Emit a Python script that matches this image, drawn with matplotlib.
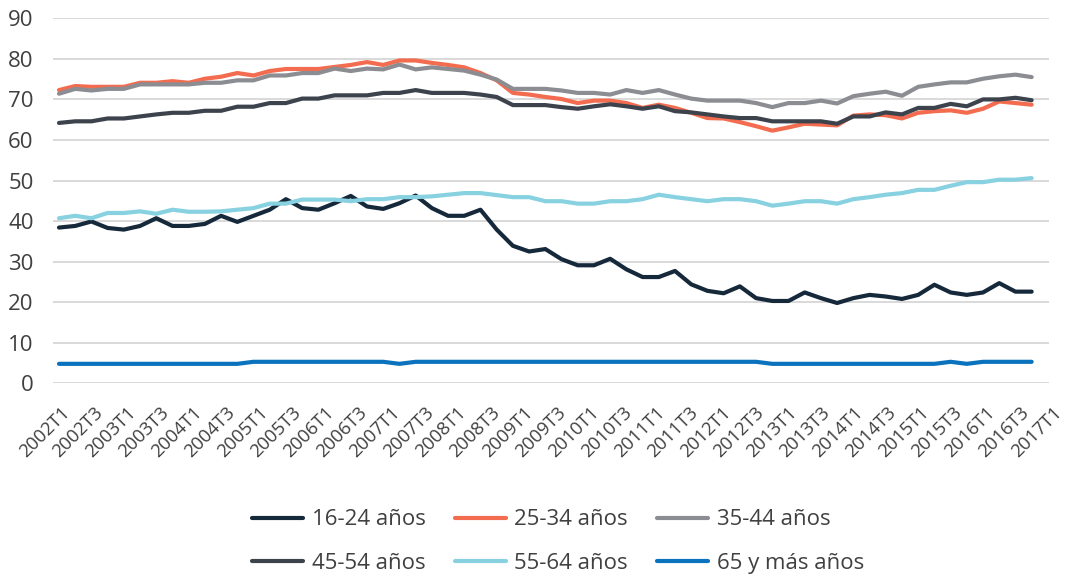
import matplotlib
matplotlib.use('Agg')
import matplotlib.pyplot as plt
import matplotlib.transforms as mtransforms

plt.rcParams['font.family'] = ['Open Sans', 'DejaVu Sans']

# trimestres 2002T1 .. 2017T1
quarters = [f'{y}T{q}' for y in range(2002, 2018) for q in range(1, 5)][:61]

age_16_24 = [38.4, 38.8, 39.9, 38.3, 37.9, 38.8, 40.7, 38.8, 38.8, 39.3,
             41.3, 39.8, 41.3, 42.8, 45.4, 43.2, 42.8, 44.4, 46.2, 43.6,
             43.0, 44.4, 46.3, 43.2, 41.3, 41.3, 42.8, 37.9, 33.9, 32.5,
             33.1, 30.6, 29.1, 29.1, 30.7, 28.1, 26.2, 26.2, 27.7, 24.4,
             22.8, 22.2, 23.9, 21.0, 20.3, 20.3, 22.4, 21.0, 19.8, 21.0,
             21.8, 21.4, 20.8, 21.8, 24.3, 22.4, 21.8, 22.4, 24.7, 22.6,
             22.6]
age_25_34 = [72.3, 73.3, 73.1, 73.1, 73.1, 74.1, 74.1, 74.5, 74.1, 75.1,
             75.6, 76.5, 75.9, 77.0, 77.5, 77.5, 77.5, 78.0, 78.5, 79.2,
             78.5, 79.6, 79.6, 79.0, 78.5, 77.9, 76.5, 74.7, 71.6, 71.2,
             70.6, 70.1, 69.1, 69.7, 69.7, 69.1, 67.9, 68.7, 67.9, 66.7,
             65.4, 65.3, 64.4, 63.4, 62.3, 63.1, 64.0, 63.8, 63.6, 66.0,
             66.3, 66.1, 65.3, 66.7, 67.1, 67.3, 66.7, 67.7, 69.5, 69.1,
             68.7]
age_35_44 = [71.4, 72.6, 72.2, 72.6, 72.6, 73.7, 73.7, 73.7, 73.7, 74.1,
             74.1, 74.7, 74.7, 75.9, 75.9, 76.5, 76.5, 77.6, 77.0, 77.6,
             77.4, 78.6, 77.4, 77.9, 77.5, 77.1, 76.1, 74.9, 72.6, 72.6,
             72.6, 72.2, 71.6, 71.6, 71.2, 72.3, 71.6, 72.3, 71.2, 70.2,
             69.7, 69.7, 69.7, 69.1, 68.1, 69.1, 69.1, 69.7, 69.0, 70.8,
             71.4, 71.9, 70.9, 73.1, 73.7, 74.2, 74.2, 75.1, 75.7, 76.1,
             75.5]
age_45_54 = [64.2, 64.6, 64.6, 65.3, 65.3, 65.8, 66.3, 66.7, 66.7, 67.2,
             67.2, 68.2, 68.2, 69.1, 69.1, 70.2, 70.2, 71.0, 71.0, 71.0,
             71.6, 71.6, 72.3, 71.6, 71.6, 71.6, 71.2, 70.6, 68.6, 68.6,
             68.6, 68.1, 67.7, 68.3, 68.8, 68.3, 67.7, 68.3, 67.1, 66.8,
             66.3, 65.8, 65.4, 65.4, 64.6, 64.6, 64.6, 64.6, 64.0, 65.8,
             65.8, 66.8, 66.3, 67.9, 67.9, 68.9, 68.3, 70.0, 70.0, 70.4,
             69.8]
age_55_64 = [40.7, 41.3, 40.7, 42.0, 42.0, 42.4, 41.8, 42.8, 42.3, 42.3,
             42.4, 42.8, 43.2, 44.3, 44.3, 45.3, 45.3, 45.3, 44.9, 45.4,
             45.4, 45.9, 45.9, 46.1, 46.5, 46.9, 46.9, 46.4, 45.9, 45.9,
             44.9, 44.9, 44.3, 44.3, 44.9, 44.9, 45.4, 46.5, 45.9, 45.4,
             44.9, 45.4, 45.4, 44.9, 43.8, 44.3, 44.9, 44.9, 44.3, 45.4,
             45.9, 46.5, 46.9, 47.7, 47.7, 48.7, 49.6, 49.6, 50.2, 50.2,
             50.6]
age_65_plus = [4.8, 4.8, 4.8, 4.8, 4.8, 4.8, 4.8, 4.8, 4.8, 4.8,
               4.8, 4.8, 5.3, 5.3, 5.3, 5.3, 5.3, 5.3, 5.3, 5.3,
               5.3, 4.8, 5.3, 5.3, 5.3, 5.3, 5.3, 5.3, 5.3, 5.3,
               5.3, 5.3, 5.3, 5.3, 5.3, 5.3, 5.3, 5.3, 5.3, 5.3,
               5.3, 5.3, 5.3, 5.3, 4.8, 4.8, 4.8, 4.8, 4.8, 4.8,
               4.8, 4.8, 4.8, 4.8, 4.8, 5.3, 4.8, 5.3, 5.3, 5.3,
               5.3]

series = [
    ('16-24 años', age_16_24, '#16293b'),
    ('25-34 años', age_25_34, '#f36c4f'),
    ('35-44 años', age_35_44, '#8b8d92'),
    ('45-54 años', age_45_54, '#3d434d'),
    ('55-64 años', age_55_64, '#87d1e1'),
    ('65 y más años', age_65_plus, '#0b72bd'),
]

text_color = '#404040'

fig = plt.figure(figsize=(10.7, 5.77), dpi=100)
ax = fig.add_axes([53 / 1070, 1 - 383.3 / 577, 996 / 1070, 365 / 577])

x = list(range(len(quarters)))
lines = []
for label, values, color in series:
    line, = ax.plot(x, values, color=color, lw=3.0, label=label,
                    solid_capstyle='round', solid_joinstyle='round')
    lines.append(line)

ax.set_ylim(0, 90)
ax.set_yticks(range(0, 91, 10))
ax.set_xlim(-0.37, 61.07)
ax.set_xticks(x[::2])
ax.set_xticklabels(quarters[::2])

ax.grid(axis='y', color='#d9d9d9', lw=1.4)
ax.set_axisbelow(True)
for spine in ax.spines.values():
    spine.set_visible(False)

ax.tick_params(axis='y', length=0, pad=14, labelsize=16, labelcolor=text_color)
ax.tick_params(axis='x', length=0, pad=19, labelsize=13.3, labelcolor=text_color)

# the original category labels run a little wider than the plotted points
for k, lbl in enumerate(ax.get_xticklabels()):
    shift = mtransforms.ScaledTranslation((8 + 0.64 * k) / 100, 0,
                                          fig.dpi_scale_trans)
    lbl.set_rotation(45)
    lbl.set_ha('right')
    lbl.set_va('center')
    lbl.set_rotation_mode('anchor')
    lbl.set_transform(lbl.get_transform() + shift)

# legend filled row by row, three per row
order = [0, 3, 1, 4, 2, 5]
fig.legend([lines[i] for i in order], [series[i][0] for i in order],
           loc='center', bbox_to_anchor=(558 / 1070, 1 - 541.5 / 577),
           ncol=3, frameon=False, fontsize=16, labelcolor=text_color,
           handlelength=2.3, handletextpad=0.4, columnspacing=1.3,
           labelspacing=1.0, borderpad=0, borderaxespad=0)

fig.savefig('out.png', dpi=100)
